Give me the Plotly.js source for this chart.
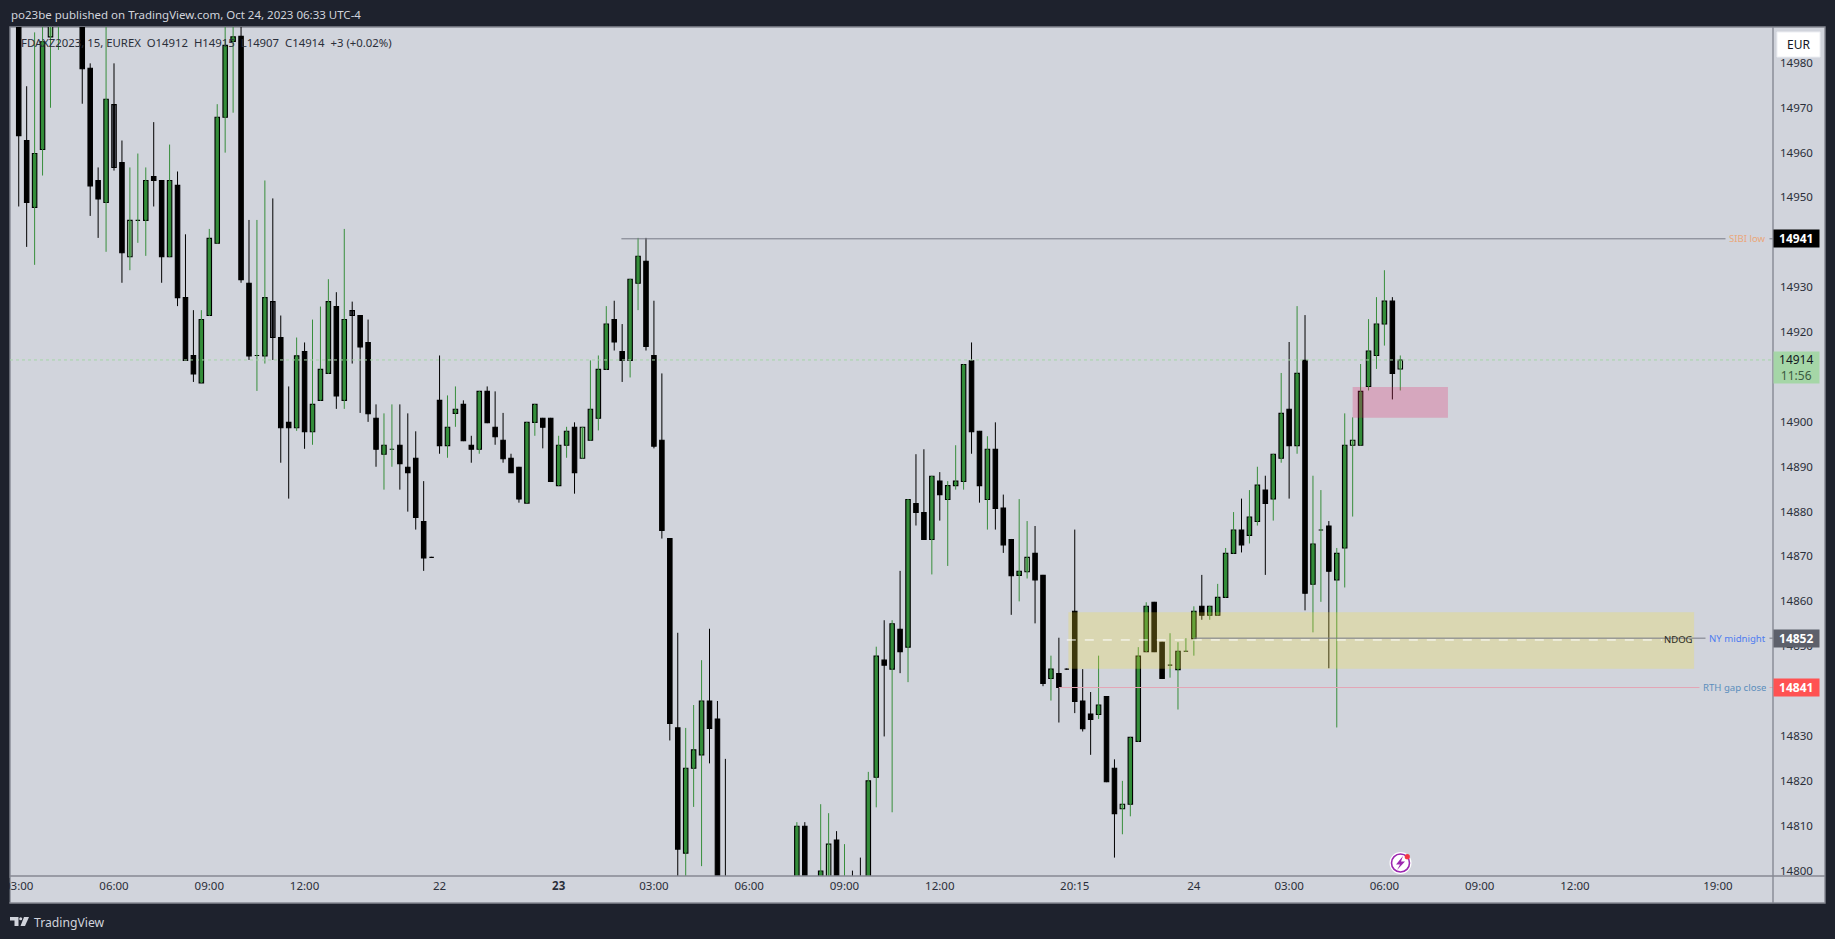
<!DOCTYPE html>
<html>
<head>
<meta charset="utf-8">
<script src="https://cdn.plot.ly/plotly-3.0.1.min.js"></script>
<style>html,body{margin:0;padding:0;background:#1e222d;overflow:hidden}</style>
</head>
<body>
<div id="chart" style="width:1835px;height:939px"></div>
<script>
const opens = [
14995,14962.9,14948,14960.9,14986,14990,15000,15004,14992,14979,
14954,14949.1,14970.9,14958,14937,14945.1,14945.1,14954.9,14954,14937,
14952.9,14927.9,14915,14908.9,14923.9,14940,14968.1,14985,14986.1,14931.1,
14915,14914.9,14927,14919,14900.1,14898.9,14915.9,14898,14905,14911,
14925.9,14905,14925,14923.9,14917.9,14901,14893,14894.1,14895,14890.1,
14892.1,14878,14870,14905,14894.9,14902.1,14904.1,14895,14894.1,14907,
14899,14896.1,14892.1,14890.1,14882.1,14900.1,14901,14901,14886,14895,
14899,14892.1,14896.1,14901,14911.9,14923,14915.9,14913.9,14931.1,14936,
14915,14896.1,14874.2,14832,14804.1,14823,14826,14838,14834,14785,
14780,14778,14776,14780,14782,14785,14788,14790,14795,14810.1,
14792,14796,14796,14807,14790,14792,14794,14795,14821,14847.1,
14845.1,14854,14850,14882,14880,14874,14887,14882.9,14886,14886.9,
14913.8,14898.1,14882.9,14894.1,14881,14874,14866,14866.8,14870.9,14866,
14843,14844.1,14845.1,14858,14838,14835.1,14835,14839,14823,14814,
14815,14829,14849,14860,14851.1,14846,14845,14849.1,14851.9,14859.1,
14857.1,14857.1,14861.1,14870.9,14876.1,14874.9,14878,14885,14883,14892.1,
14903,14894.9,14913.9,14864,14876.1,14877,14865,14872.1,14895,14895,
14908.1,14915,14922,14927.1,14912];
const closes = [
14964,14949.1,14960,14984.9,14992,14995,15005,14998,14978.9,14952.8,
14949.9,14972.1,14956.9,14937.9,14945.1,14945.1,14954,14954,14937,14954,
14927.9,14913.9,14910.9,14923,14941.1,14968.1,14984.1,14986,14931.9,14914.9,
14915,14927.9,14919,14898.9,14898.9,14914.9,14898,14904.1,14911.9,14927,
14906,14923,14923.9,14916.9,14902,14894.1,14895,14894.1,14890.9,14888.9,
14878.9,14869.9,14870,14894.9,14899,14903,14896,14894.1,14907,14900,
14896.9,14892,14888.9,14883,14900.1,14904.1,14899,14886.9,14895,14898.1,
14888.9,14899,14903,14911.9,14922,14918,14913.9,14932,14937.1,14917,
14894.8,14876,14833,14805,14823,14827.1,14838,14831.9,14790,14780,
14778,14776,14780,14782,14785,14788,14790,14795,14810.1,14790,
14796,14800.1,14806.1,14795,14795,14790,14790,14820.2,14848,14846,
14855.2,14849,14882.9,14880,14874,14888.1,14884,14886,14887,14913,
14898,14886,14894.1,14880.9,14872.8,14865.9,14866.9,14870,14865,14841.9,
14845.1,14841,14845.1,14837.9,14831.8,14833.9,14837.1,14820,14812.9,14815,
14829.9,14848,14859.1,14849,14843,14846,14849.1,14849.1,14858,14857.1,
14859.1,14861.1,14870.9,14876.1,14872.8,14879,14886.1,14882,14893,14902.1,
14894.9,14911,14862,14873,14876.1,14866.9,14870.9,14895,14896.1,14907,
14916,14922,14927.1,14911,14914];
const highs = [
15000,14975,14987,14992,14995,15000,15010,15008,14996,14980.1,
14956.9,14992,14980.1,14962.9,14956.9,14960,14956.9,14967,14954,14962,
14956,14942,14925.1,14925.1,14943.2,14971,14994,14994,14992,14945.2,
14945.2,14954,14950,14923.9,14908.1,14919,14917.9,14923,14925.9,14932,
14929.1,14943.2,14927,14923.9,14923,14904.1,14902.1,14904.1,14904.1,14902.1,
14898.1,14887,14870,14915,14906.1,14908.1,14905,14897.1,14907,14908.1,
14907,14902.2,14893.1,14890.1,14900.1,14904.1,14901,14901,14897.1,14899.1,
14900.1,14899,14913.9,14915,14926,14927.2,14922,14932,14941.2,14941.2,
14927.2,14911,14874.2,14853.2,14832,14837.1,14847.1,14854.1,14838,14825.1,
14785,14783,14784,14786,14788,14790,14793,14796,14811,14811,
14797,14815,14813,14809,14806.1,14800.2,14803.1,14822.2,14850.1,14856,
14856,14867,14882.9,14893,14894.1,14888.1,14889,14887,14895,14913,
14917.9,14898.1,14897,14900.1,14884,14874,14883,14878.1,14877,14866,
14848.1,14852.1,14845.1,14876.2,14845.1,14840,14848.1,14839,14825,14820.2,
14829.9,14850,14860,14860,14851.1,14853.1,14851.1,14852,14859.1,14866.1,
14859.1,14864.1,14872.1,14880.1,14883.1,14885,14890.2,14888.2,14893,14911.1,
14918,14926,14924,14888.2,14885,14878.1,14872.1,14902.1,14901.2,14913.1,
14923.1,14928,14934,14928,14915];
const lows = [
14948.2,14939.2,14935.2,14955.1,14970.2,14983.1,14996,14995,14971.1,14946.1,
14941.2,14938.1,14956.2,14931.2,14934,14940.1,14937.2,14948.2,14931.2,14937,
14926,14913.9,14909.1,14908.9,14923.9,14940,14960.2,14969.1,14931.2,14914,
14907.1,14913.2,14914,14891.1,14883.1,14898.2,14894.2,14895.1,14905,14911,
14903.1,14903.1,14913.2,14902.2,14900.2,14890.2,14885.1,14890.2,14885.1,14880.2,
14876.2,14867,14870,14893.1,14892.2,14899.1,14896,14891.1,14893.1,14900,
14895.1,14891.1,14888.9,14882.2,14882.1,14897.1,14894.3,14886.9,14886,14892.2,
14884.2,14892.1,14896.1,14898.3,14911.9,14916.1,14909.1,14910.1,14925.1,14916.1,
14894.3,14874.2,14829.2,14795,14795,14814.4,14801.2,14824.1,14788,14775,
14773,14771,14772,14775,14778,14781,14784,14787,14792,14788,
14790,14794,14793,14792,14788,14788,14787,14792,14814.3,14830.1,
14813.2,14844.2,14842.2,14877.1,14874,14866.2,14878.2,14868.1,14885.1,14885.1,
14893.1,14882.2,14876.2,14876.2,14871,14857.2,14860.2,14865.3,14855.3,14841.3,
14838.1,14833.2,14845.1,14835.3,14831.2,14826,14834,14820,14803.1,14808.3,
14812.3,14829,14849,14849,14843,14843.2,14836.1,14849.1,14848.1,14856.1,
14856.1,14857.1,14861.1,14870.9,14871.1,14873.1,14877.1,14866.1,14878.2,14891.1,
14883.1,14893.1,14858.2,14853.3,14860.1,14845.3,14832.1,14863.3,14879.1,14895,
14907.2,14912,14917.2,14905.2,14907.2];
const greenDojis = [15,30,47,145,147,164];
const lightCandles = [4,14,71,102,127,139,168,174];
const grayCandles = [12,32,42];

const yTicks = [14800,14810,14820,14830,14850,14860,14870,14880,14890,14900,14920,14930,14950,14960,14970,14980];
const xTickPos = [0,12,24,36,53,68,80,92,104,116,133,148,160,172,184,196,214];
const xTickText = ['03:00','06:00','09:00','12:00','22','<b>23</b>','03:00','06:00','09:00','12:00','20:15','24','03:00','06:00','09:00','12:00','19:00'];

const sibiLow = 14941, nyMidnight = 14852, rthGap = 14841, lastPrice = 14914, ndog = 14851.6;
const yellowZone = {start:132.2, end:211, top:14857.8, bottom:14845.2};
const pinkZone = {start:168, end:180, top:14908, bottom:14901.1};

// layout helpers (pixels of the 1835x939 frame -> paper coordinates)
const L=10,R=1773,T=27,B=876;
const px = x => (x-L)/(R-L);
const py = y => (B-y)/(B-T);
const pathOf = pts => pts.map((p,i)=>(i?'L':'M')+px(p[0])+' '+py(p[1])).join(' ')+' Z';

const idx = opens.map((_,i)=>i);
const GREEN='#388e3c', FILLG='#2e8b37', LIGHT='#a5d6a7', GRAY='#5d606b', BLACK='#000000';
const isUp = i => closes[i]>opens[i] || greenDojis.includes(i);
const upIdx = idx.filter(isUp), dnIdx = idx.filter(i=>!isUp(i));
const pick = (a,s)=>s.map(i=>a[i]);
function wicks(sel,color){
  return {type:'candlestick',x:sel,open:pick(opens,sel),high:pick(highs,sel),low:pick(lows,sel),close:pick(closes,sel),
    increasing:{line:{color:color,width:1},fillcolor:color},decreasing:{line:{color:color,width:1},fillcolor:color},
    whiskerwidth:0,hoverinfo:'skip',showlegend:false};
}
const bodyFill = idx.map(i=> lightCandles.includes(i)?LIGHT : grayCandles.includes(i)?GRAY : closes[i]>opens[i]?FILLG:BLACK);
const bodies = {type:'bar',x:idx,base:opens,y:idx.map(i=>closes[i]-opens[i]),width:0.56,
  marker:{color:bodyFill,line:{color:BLACK,width:1.1}},hoverinfo:'skip',showlegend:false};

const lineShape=(x0,x1,y,color,dash,w)=>({type:'line',xref:'x',yref:'y',x0,x1,y0:y,y1:y,line:{color,dash:dash||'solid',width:w||1},layer:'above'});
const pline=(x0,y0,x1,y1,color)=>({type:'line',xref:'paper',yref:'paper',x0:px(x0),x1:px(x1),y0:py(y0),y1:py(y1),line:{color,width:1.4},layer:'above'});
const solid=(pts,color)=>({type:'path',xref:'paper',yref:'paper',path:pathOf(pts),fillcolor:color,line:{width:0},layer:'above'});
const XEND=220.94;

const shapes=[
 {type:'rect',xref:'paper',yref:'paper',x0:px(10),x1:px(1825),y0:py(27),y1:py(903),fillcolor:'#d1d4dc',line:{color:'#868993',width:1.4},layer:'below'},
 {type:'rect',xref:'x',yref:'y',x0:yellowZone.start,x1:yellowZone.end,y0:yellowZone.bottom,y1:yellowZone.top,fillcolor:'rgba(248,225,50,0.25)',line:{width:0},layer:'above'},
 {type:'rect',xref:'x',yref:'y',x0:pinkZone.start,x1:pinkZone.end,y0:pinkZone.bottom,y1:pinkZone.top,fillcolor:'rgba(233,30,99,0.25)',line:{width:0},layer:'above'},
 lineShape(-1.1,XEND,lastPrice,'#a5d6a7','dot',1),
 lineShape(75.9,XEND,sibiLow,'#787b86'),
 lineShape(148,XEND,nyMidnight,'#787b86'),
 lineShape(131,XEND,rthGap,'#e3a5b5'),
 lineShape(132,207,ndog,'#ffffff','dash',1),
 // frame
 pline(1773,27,1773,903,'#868993'),
 pline(10,876,1825,876,'#868993'),
 // cover left of the plot so the clipped first time label matches
 {type:'rect',xref:'paper',yref:'paper',x0:px(0),x1:px(9.4),y0:py(878),y1:py(902),fillcolor:'#1e222d',line:{width:0},layer:'above'},
 // EUR button
 {type:'rect',xref:'paper',yref:'paper',x0:px(1777),x1:px(1820),y0:py(32),y1:py(57),fillcolor:'#ffffff',line:{color:'#eceef3',width:1},layer:'above'},
 // flash icon
 {type:'circle',xref:'paper',yref:'paper',x0:px(1389.5),x1:px(1411.5),y0:py(852),y1:py(874),fillcolor:'#ffffff',line:{width:0},layer:'above'},
 {type:'circle',xref:'paper',yref:'paper',x0:px(1391.5),x1:px(1409.5),y0:py(854),y1:py(872),fillcolor:'#ffffff',line:{color:'#9c27b0',width:1.6},layer:'above'},
 solid([[1403,856],[1396,864.5],[1400,864.5],[1397,870],[1405,861.5],[1401,861.5]],'#9c27b0'),
 {type:'circle',xref:'paper',yref:'paper',x0:px(1404.7),x1:px(1409.9),y0:py(854.1),y1:py(859.3),fillcolor:'#f23645',line:{width:0},layer:'above'},
 // TradingView logo
 solid([[10,917],[18.5,917],[18.5,926],[14.5,926],[14.5,920.5],[10,920.5]],'#d1d4dc'),
 {type:'circle',xref:'paper',yref:'paper',x0:px(19.2),x1:px(22.2),y0:py(917.2),y1:py(920.2),fillcolor:'#d1d4dc',line:{width:0},layer:'above'},
 solid([[24,917],[29,917],[25,926],[20.5,926]],'#d1d4dc')
];

const FONT='"Noto Sans", sans-serif';
const note=(xpx,ypx,text,color,size,anchor,extra)=>Object.assign({xref:'paper',yref:'paper',x:px(xpx),y:py(ypx),text,showarrow:false,xanchor:anchor||'left',yanchor:'middle',font:{family:FONT,size,color}},extra||{});
const lineLabel=(price,text,color)=>({xref:'paper',yref:'y',x:px(1770),y:price,text,showarrow:false,xanchor:'right',yanchor:'middle',font:{family:FONT,size:9.6,color},bgcolor:'#d1d4dc',borderpad:3,height:11});
const tag=(price,text,bg,color,h,yoff)=>({xref:'paper',yref:'y',x:px(1773),y:price,yshift:yoff||0,text,showarrow:false,xanchor:'left',yanchor:'middle',width:44.5,height:h,align:'center',valign:'middle',bgcolor:bg,borderpad:0,font:{family:FONT,size:12,color}});

const annotations=[
 note(9,15,'po23be published on TradingView.com, Oct 24, 2023 06:33 UTC-4','#d1d4dc',11.5),
 note(19,42,'FDAXZ2023, 15, EUREX&nbsp;&nbsp;O14912&nbsp;&nbsp;H14915&nbsp;&nbsp;L14907&nbsp;&nbsp;C14914&nbsp;&nbsp;+3 (+0.02%)','#2a2e39',11.35),
 note(32,922,'TradingView','#d1d4dc',12.2),
 note(1798.5,44.5,'EUR','#131722',12,'center'),
 {xref:'paper',yref:'y',x:px(1678),y:ndog,text:'NDOG',showarrow:false,xanchor:'center',yanchor:'middle',font:{family:FONT,size:9.5,color:'#2a2a20'}},
 lineLabel(sibiLow,'SIBI low','#eba77a'),
 lineLabel(nyMidnight,'NY midnight','#4f7cf0'),
 lineLabel(rthGap,'RTH gap close','#5b8ebd'),
 tag(sibiLow,'<b>14941</b>','#000000','#ffffff',17),
 tag(nyMidnight,'<b>14852</b>','#5d606b','#ffffff',17),
 tag(rthGap,'<b>14841</b>','#ff5252','#ffffff',17),
 tag(lastPrice,'14914<br><span style="color:#3b5a40">11:56</span>','#a5d6a7','#131722',31,-7.5)
];

const layout={
 width:1835,height:939,autosize:false,
 margin:{l:L,r:1835-R,t:T,b:939-B,pad:0},
 paper_bgcolor:'#1e222d',plot_bgcolor:'rgba(0,0,0,0)',
 barmode:'overlay',boxgap:0.9,showlegend:false,dragmode:false,
 xaxis:{type:'linear',range:[-1.1,XEND],tickmode:'array',tickvals:xTickPos,ticktext:xTickText,showgrid:false,zeroline:false,ticks:'',ticklabelstandoff:1,
   rangeslider:{visible:false},tickfont:{family:FONT,size:11.5,color:'#2a2e39'},showline:false,automargin:false},
 yaxis:{type:'linear',side:'right',range:[14799,14988.2],tickmode:'array',tickvals:yTicks,ticktext:yTicks.map(String),showgrid:false,zeroline:false,ticks:'',ticklabelstandoff:6,ticklabelshift:-1,
   tickfont:{family:FONT,size:11.5,color:'#2a2e39'},showline:false,automargin:false},
 shapes,annotations
};
Plotly.newPlot('chart',[wicks(upIdx,GREEN),wicks(dnIdx,BLACK),bodies],layout,{displayModeBar:false,staticPlot:true});
</script>
</body>
</html>
